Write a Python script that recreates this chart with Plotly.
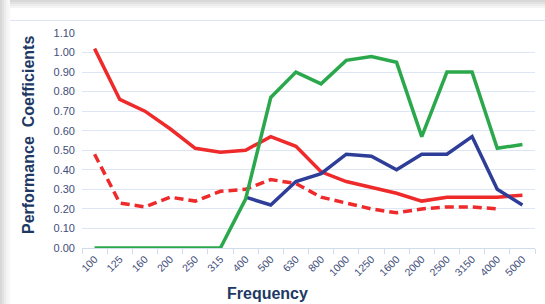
import plotly.graph_objects as go

freqs = ["100", "125", "160", "200", "250", "315", "400", "500", "630", "800",
         "1000", "1250", "1600", "2000", "2500", "3150", "4000", "5000"]
red_solid = [1.02, 0.76, 0.70, 0.61, 0.51, 0.49, 0.50, 0.57, 0.52, 0.39,
             0.34, 0.31, 0.28, 0.24, 0.26, 0.26, 0.26, 0.27]
red_dash = [0.48, 0.23, 0.21, 0.26, 0.24, 0.29, 0.30, 0.35, 0.33, 0.26,
            0.23, 0.20, 0.18, 0.20, 0.21, 0.21, 0.20, None]
blue = [None, None, None, None, None, None, 0.26, 0.22, 0.34, 0.38,
        0.48, 0.47, 0.40, 0.48, 0.48, 0.57, 0.30, 0.22]
green = [0.0, 0.0, 0.0, 0.0, 0.0, 0.0, 0.25, 0.77, 0.90, 0.84,
         0.96, 0.98, 0.95, 0.57, 0.90, 0.90, 0.51, 0.53]
y_ticks = [0.0, 0.1, 0.2, 0.3, 0.4, 0.5, 0.6, 0.7, 0.8, 0.9, 1.0, 1.1]

RED = "#EE2A2A"
GREEN = "#2CA84C"
BLUE = "#2E3D98"
TXT = "#3F4E7A"
TITLE = "#203864"
GRID = "#DCE6F4"

fig = go.Figure()
fig.add_trace(go.Scatter(x=freqs, y=red_solid, mode="lines",
                         line=dict(color=RED, width=3.5)))
fig.add_trace(go.Scatter(x=freqs, y=red_dash, mode="lines",
                         line=dict(color=RED, width=3.5, dash="9px,5px")))
fig.add_trace(go.Scatter(x=freqs, y=blue, mode="lines",
                         line=dict(color=BLUE, width=3.5)))
fig.add_trace(go.Scatter(x=freqs, y=green, mode="lines",
                         line=dict(color=GREEN, width=3.5)))

L, R, T, B = 82, 10, 33, 56
W, H = 545, 304
pw, ph = W - L - R, H - T - B


def px_x(p):
    return (p - L) / pw


def px_y(p):
    return (H - B - p) / ph


shapes = []
# top shadow band
greys = ["#D8D8D8", "#E2E2E2", "#ECECEC", "#F4F4F4"]
for i, g in enumerate(greys):
    shapes.append(dict(type="rect", xref="paper", yref="paper",
                       x0=px_x(0), x1=px_x(W), y0=px_y(2 * i), y1=px_y(2 * i + 2),
                       fillcolor=g, line_width=0, layer="below"))
for i, g in enumerate(greys + ["#F8F8F8"]):
    shapes.append(dict(type="rect", xref="paper", yref="paper",
                       x0=px_x(2 * i), x1=px_x(2 * i + 2), y0=px_y(H), y1=px_y(0),
                       fillcolor=g, line_width=0, layer="below"))
shapes.append(dict(type="line", xref="paper", yref="paper",
                   x0=px_x(10), x1=px_x(W), y0=px_y(20.5), y1=px_y(20.5),
                   line=dict(color=GRID, width=1.2), layer="below"))

fig.update_layout(
    width=W, height=H,
    margin=dict(l=L, r=R, t=T, b=B, autoexpand=False),
    paper_bgcolor="white", plot_bgcolor="white",
    showlegend=False,
    font=dict(family="Liberation Sans, Arial, sans-serif", color=TXT, size=11),
    shapes=shapes,
    xaxis=dict(type="category", tickson="boundaries", ticks="outside",
               ticklen=5, tickcolor="#D0DCEC", showgrid=False,
               showline=True, linecolor="#D0DCEC", linewidth=1.2,
               tickangle=-45, tickfont=dict(size=10.5, color=TXT),
               range=[-0.5, len(freqs) - 0.5]),
    yaxis=dict(range=[0, 1.1], tickvals=y_ticks, tickformat=".2f",
               showgrid=True, gridcolor=GRID, gridwidth=1.2, zeroline=False,
               showline=False, ticks="", ticklabelstandoff=6,
               tickfont=dict(size=11, color=TXT)),
    annotations=[
        dict(text="<b>Frequency</b>", xref="paper", yref="paper",
             x=px_x(267), y=px_y(293), xanchor="center", yanchor="middle",
             showarrow=False, font=dict(size=16, color=TITLE)),
        dict(text="<b>Performance  Coefficients</b>", xref="paper", yref="paper",
             x=px_x(28), y=px_y(135), xanchor="center", yanchor="middle",
             textangle=-90, showarrow=False, font=dict(size=16, color=TITLE)),
    ],
)

fig.write_html("out.html", config={"displayModeBar": False},
               post_script="document.body.style.margin='0';document.body.style.padding='0';")
